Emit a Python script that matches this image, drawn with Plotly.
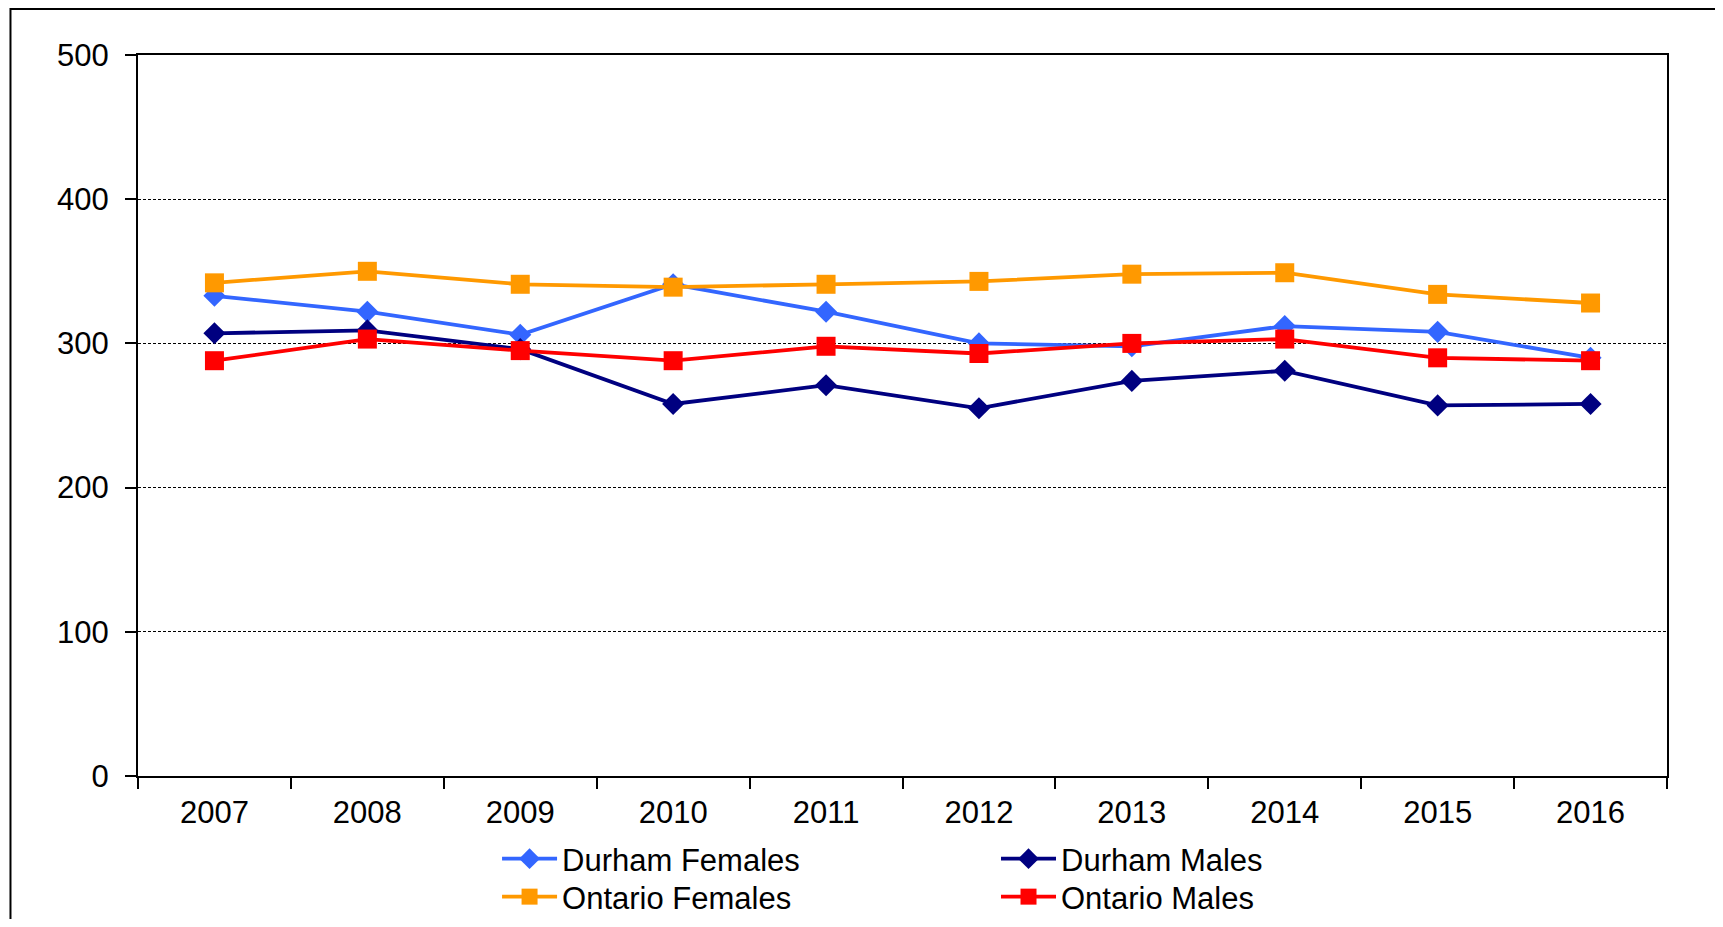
import plotly.graph_objects as go

years = ["2007", "2008", "2009", "2010", "2011", "2012", "2013", "2014", "2015", "2016"]
durham_females = [333, 322, 306, 341, 322, 300, 298, 312, 308, 290]
durham_males = [307, 309, 296, 258, 271, 255, 274, 281, 257, 258]
ontario_females = [342, 350, 341, 339, 341, 343, 348, 349, 334, 328]
ontario_males = [288, 303, 295, 288, 298, 293, 300, 303, 290, 288]
y_ticks = [0, 100, 200, 300, 400, 500]

series = [
    ("Durham Females", durham_females, "#3366FF", "diamond", 17, "legend"),
    ("Durham Males", durham_males, "#000080", "diamond", 17, "legend2"),
    ("Ontario Females", ontario_females, "#FF9900", "square", 19, "legend3"),
    ("Ontario Males", ontario_males, "#FF0000", "square", 19, "legend4"),
]

fig = go.Figure()
for name, vals, color, sym, size, leg in series:
    fig.add_trace(go.Scatter(
        x=years, y=vals, name=name, mode="lines+markers", legend=leg,
        line=dict(color=color, width=3.8),
        marker=dict(symbol=sym, size=size, color=color, line=dict(width=0)),
    ))

FONT = "Liberation Sans, Arial, sans-serif"
LEG_FONT = dict(family=FONT, size=31, color="black")


def leg(x, y):
    return dict(
        orientation="h", xref="container", x=x, xanchor="left",
        yref="container", y=y, yanchor="top",
        font=LEG_FONT, bgcolor="rgba(0,0,0,0)", itemwidth=55,
    )


fig.update_layout(
    width=1707, height=911,
    margin=dict(l=130, r=48, t=47, b=143),
    paper_bgcolor="white", plot_bgcolor="white",
    font=dict(family=FONT, size=31, color="black"),
    showlegend=True,
    legend=leg(0.2865, 0.0955),
    legend2=leg(0.5788, 0.0955),
    legend3=leg(0.2865, 0.0538),
    legend4=leg(0.5788, 0.0538),
    xaxis=dict(
        type="category", range=[-0.5, len(years) - 0.5],
        tickson="boundaries", ticks="outside", ticklen=11,
        tickwidth=1.5, tickcolor="black", showline=True, linecolor="black",
        linewidth=2, mirror=True, showgrid=False, zeroline=False,
        tickfont=dict(family=FONT, size=31), ticklabelstandoff=8,
        automargin=False,
    ),
    yaxis=dict(
        range=[0, 500], tickvals=y_ticks, ticks="outside", ticklen=11,
        tickwidth=1.5, tickcolor="black", showline=True, linecolor="black",
        linewidth=2, mirror=True, showgrid=True, gridcolor="black",
        gridwidth=1.2, griddash="3px,2px", zeroline=False,
        tickfont=dict(family=FONT, size=31), ticklabelstandoff=10,
        automargin=False,
    ),
    shapes=[dict(
        type="rect", xref="paper", yref="paper",
        x0=-0.0834, x1=1.2, y0=-0.4, y1=1.0638,
        line=dict(color="black", width=2), fillcolor="rgba(0,0,0,0)",
        layer="below",
    )],
)

fig.write_html("out.html")
